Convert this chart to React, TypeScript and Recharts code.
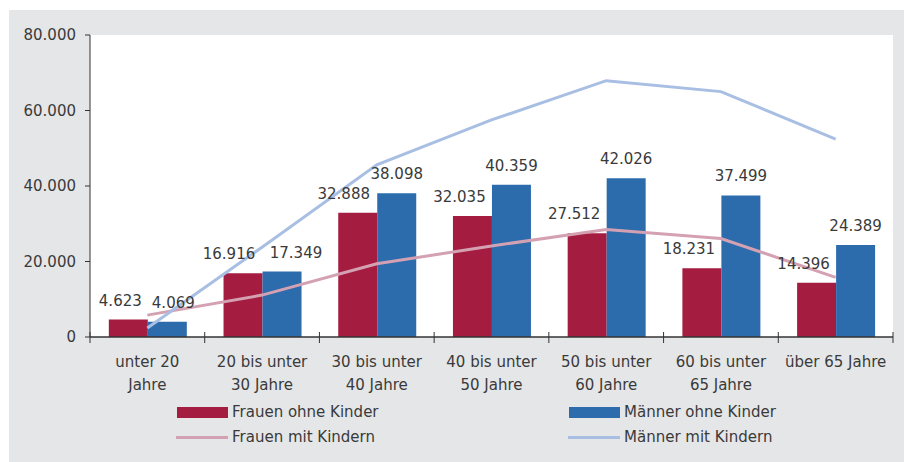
import React from "react";
import { ComposedChart, Bar, Line, XAxis, YAxis, CartesianGrid, LabelList } from "recharts";

const categories = [
  "unter 20\nJahre",
  "20 bis unter\n30 Jahre",
  "30 bis unter\n40 Jahre",
  "40 bis unter\n50 Jahre",
  "50 bis unter\n60 Jahre",
  "60 bis unter\n65 Jahre",
  "über 65 Jahre",
];
const frauenOhne = [4623, 16916, 32888, 32035, 27512, 18231, 14396];
const maennerOhne = [4069, 17349, 38098, 40359, 42026, 37499, 24389];
const frauenMit = [5800, 11100, 19400, 24100, 28500, 26100, 15800];
const maennerMit = [2400, 23800, 45600, 57500, 67900, 65000, 52400];
const yTicks = [0, 20000, 40000, 60000, 80000];

// label shifts as placed in the original (not data)
const frauenLabelDx = [-8, -14, -14, -13, -13, -13, -13];
const maennerLabelDx = [6, 14, 0, 0, 0, 0, 0];

const FONT = "'DejaVu Sans', sans-serif";
const TEXT = "#3a3a3a";
const RED = "#a51c41";
const BLUE = "#2c6cac";
const PINK = "#d4a1b3";
const LIGHTBLUE = "#a8bfe3";

const fmt = (v: number) => v.toLocaleString("de-DE");

const data = categories.map((c, i) => ({
  cat: c,
  fo: frauenOhne[i],
  mo: maennerOhne[i],
  fm: frauenMit[i],
  mm: maennerMit[i],
}));

function makeLabel(shifts: number[]) {
  return (props: any) => {
    const { x, y, width, value, index } = props;
    return (
      <text
        x={x + width / 2 + shifts[index]}
        y={y - 14}
        textAnchor="middle"
        fontFamily={FONT}
        fontSize={15}
        fill={TEXT}
      >
        {fmt(value)}
      </text>
    );
  };
}

function CatTick(props: any) {
  const { x, y, payload, index, width, visibleTicksCount } = props;
  const band = width / visibleTicksCount;
  const lines = String(payload.value).split("\n");
  return (
    <g>
      <line x1={x - band / 2} x2={x - band / 2} y1={y - 5} y2={y + 6} stroke="#333" strokeWidth={1} />
      {index === visibleTicksCount - 1 && (
        <line x1={x + band / 2} x2={x + band / 2} y1={y - 5} y2={y + 6} stroke="#333" strokeWidth={1} />
      )}
      {lines.map((l, k) => (
        <text
          key={k}
          x={x}
          y={y + 30 + k * 23.4}
          textAnchor="middle"
          fontFamily={FONT}
          fontSize={15}
          fill={TEXT}
        >
          {l}
        </text>
      ))}
    </g>
  );
}

function LegendItem({ left, top, color, kind, label }: any) {
  return (
    <div style={{ position: "absolute", left, top, height: 20, display: "flex", alignItems: "center" }}>
      {kind === "bar" ? (
        <div style={{ width: 51, height: 11, background: color }} />
      ) : (
        <div style={{ width: 52, height: 3, background: color }} />
      )}
      <span style={{ marginLeft: 4, fontFamily: FONT, fontSize: 15, color: TEXT, whiteSpace: "nowrap" }}>
        {label}
      </span>
    </div>
  );
}

export default function App(): React.JSX.Element {
  return (
    <div style={{ position: "absolute", left: 0, top: 0, width: 904, height: 462, background: "#fff" }}>
      <div style={{ position: "absolute", left: 9, top: 10, width: 895, height: 452, background: "#e5e6e8" }} />
      <div style={{ position: "absolute", left: 0, top: 0 }}>
        <ComposedChart
          width={904}
          height={462}
          data={data}
          margin={{ top: 35, right: 11, bottom: 65, left: 10 }}
          barCategoryGap="16.4%"
          barGap={0}
        >
          <CartesianGrid horizontal={false} vertical={false} fill="#ffffff" />
          <XAxis
            dataKey="cat"
            height={60}
            interval={0}
            tickSize={0}
            tickMargin={0}
            tick={<CatTick />}
            axisLine={{ stroke: "#333", strokeWidth: 1.5 }}
          />
          <YAxis
            width={80}
            domain={[0, 80000]}
            ticks={yTicks}
            tickFormatter={fmt}
            tickSize={5}
            tickMargin={9}
            tick={{ fontFamily: FONT, fontSize: 15, fill: TEXT }}
            axisLine={{ stroke: "#333" }}
            tickLine={{ stroke: "#333" }}
          />
          <Bar dataKey="fo" fill={RED} isAnimationActive={false}>
            <LabelList dataKey="fo" content={makeLabel(frauenLabelDx)} />
          </Bar>
          <Bar dataKey="mo" fill={BLUE} isAnimationActive={false}>
            <LabelList dataKey="mo" content={makeLabel(maennerLabelDx)} />
          </Bar>
          <Line dataKey="fm" type="linear" stroke={PINK} strokeWidth={3} dot={false} isAnimationActive={false} />
          <Line dataKey="mm" type="linear" stroke={LIGHTBLUE} strokeWidth={3} dot={false} isAnimationActive={false} />
        </ComposedChart>
      </div>
      <LegendItem left={177} top={402} color={RED} kind="bar" label="Frauen ohne Kinder" />
      <LegendItem left={569} top={402} color={BLUE} kind="bar" label="Männer ohne Kinder" />
      <LegendItem left={176} top={427} color={PINK} kind="line" label="Frauen mit Kindern" />
      <LegendItem left={568} top={427} color={LIGHTBLUE} kind="line" label="Männer mit Kindern" />
    </div>
  );
}
